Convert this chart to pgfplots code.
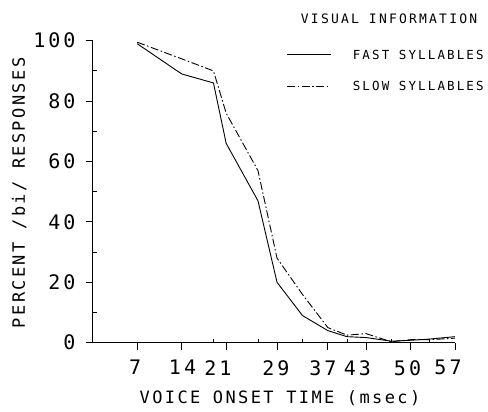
\documentclass[border=0pt]{standalone}
\usepackage{fontspec}
\setmainfont{DejaVu Sans Mono}
\newfontfamily\tickfont{DejaVu Sans Mono}[LetterSpace=15]
\newfontfamily\labfont{DejaVu Sans Mono}[LetterSpace=14]
\newfontfamily\legfont{DejaVu Sans Mono}[LetterSpace=17]
\usepackage{pgfplots}
\pgfplotsset{compat=1.18}

\begin{document}
\begin{tikzpicture}
\begin{axis}[
  at={(92.7pt,69.3pt)}, anchor=south west,
  scale only axis, width=362.3pt, height=302pt,
  xmin=0, xmax=57, ymin=0, ymax=100,
  enlargelimits=false, clip=false,
  axis x line=bottom, axis y line=left,
  axis line style={-, line width=0.9pt},
  tick style={black, line width=0.8pt},
  tick align=outside,
  major tick length=7pt, minor tick length=4pt,
  xtick={7,14,21,29,37,43,50,57},
  xticklabels={,,,,,,,},
  minor xtick={19,26,33,40,47,53},
  minor x tick style={yshift=4pt},
  extra x ticks={6.66,14.13,19.71,28.81,36.23,41.66,49.53,55.9},
  extra x tick labels={7,14,21,29,37,43,50,57},
  extra x tick style={major tick length=0pt},
  ytick={0,20,40,60,80,100},
  minor ytick={10,30,50,70,90},
  minor y tick style={xshift=4pt},
  /pgf/number format/assume math mode=true,
  tick label style={font=\tickfont\fontsize{20}{20}\selectfont, inner sep=0pt},
  xticklabel style={anchor=north, yshift=-17.3pt},
  yticklabel style={anchor=east, xshift=-10pt},
  xlabel={VOICE ONSET TIME (msec)},
  ylabel={PERCENT /bi/ RESPONSES},
  label style={font=\labfont\fontsize{17}{17}\selectfont, inner sep=0pt},
  xlabel style={at={(axis description cs:0.517,-0.2007)}, anchor=base},
  ylabel style={at={(axis description cs:-0.187,0.496)}, anchor=base},
  legend style={at={(axis description cs:0.5355,0.9785)}, anchor=north west,
    draw=none, fill=none, inner sep=0pt, row sep=19.5pt, column sep=21.7pt,
    nodes={inner sep=0pt, text height=9pt, text depth=0pt,
      font=\legfont\fontsize{12.5}{12.5}\selectfont}},
  legend cell align=left,
  legend image code/.code={\path (0pt,7pt); \draw[#1] (0pt,0pt) -- (43.3pt,0pt);},
]
\addplot[black, line width=0.9pt] coordinates {
(7,99) (14,89) (19,86) (21,66) (26,47) (29,20) (33,9) (37,4) (40,2) (43,1.7) (47,0.5) (50,0.8) (53,1.2) (57,2) };
\addlegendentry{FAST SYLLABLES}
\addplot[black, line width=0.9pt, dash pattern=on 8pt off 2.5pt on 1.5pt off 2.5pt] coordinates {
(7,99.5) (14,94) (19,90) (21,76) (26,57) (29,28) (33,16) (37,5) (40,2.5) (43,3) (47,0.3) (50,1) (53,1) (57,1.5) };
\addlegendentry{SLOW SYLLABLES}
\node[font=\legfont\fontsize{13}{13}\selectfont, anchor=base, inner sep=0pt]
  at (axis description cs:0.818,1.0576) {VISUAL INFORMATION};
\end{axis}
\pgfresetboundingbox
\useasboundingbox (0,0) rectangle (488pt,412pt);
\end{tikzpicture}
\end{document}
